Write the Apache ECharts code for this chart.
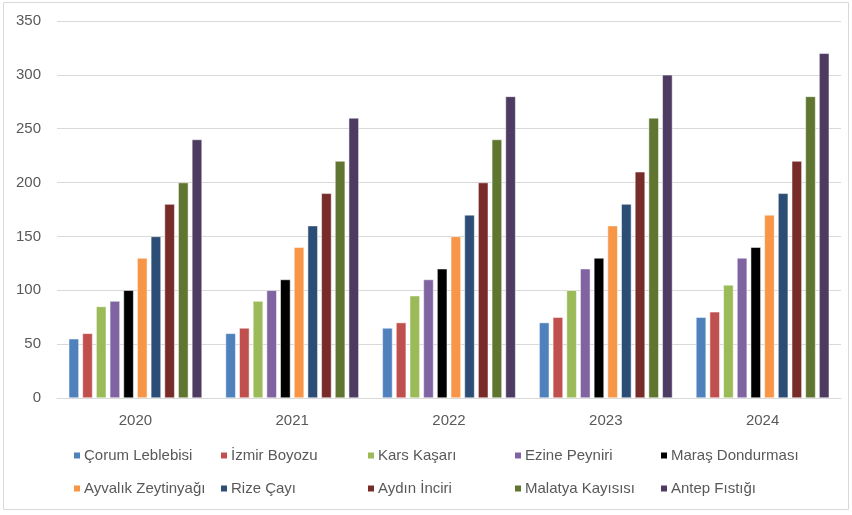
<!DOCTYPE html>
<html><head><meta charset="utf-8">
<script src="https://cdn.jsdelivr.net/npm/echarts@6/dist/echarts.min.js"></script>
<style>html,body{margin:0;padding:0;background:#fff}#c{width:852px;height:515px}</style>
</head><body><div id="c"></div>
<script>
const years = ['2020','2021','2022','2023','2024'];
const seriesNames = ['Çorum Leblebisi','İzmir Boyozu','Kars Kaşarı','Ezine Peyniri','Maraş Dondurması','Ayvalık Zeytinyağı','Rize Çayı','Aydın İnciri','Malatya Kayısısı','Antep Fıstığı'];
const corum = [55,60,65,70,75];
const izmir = [60,65,70,75,80];
const kars = [85,90,95,100,105];
const ezine = [90,100,110,120,130];
const maras = [100,110,120,130,140];
const ayvalik = [130,140,150,160,170];
const rize = [150,160,170,180,190];
const aydin = [180,190,200,210,220];
const malatya = [200,220,240,260,280];
const antep = [240,260,280,300,320];
const values = [corum,izmir,kars,ezine,maras,ayvalik,rize,aydin,malatya,antep];
const colors = ['#4f81bd','#c0504d','#9bbb59','#8064a2','#000000','#f79646','#2c4d75','#772c2a','#5f7530','#4d3b62'];
const yTicks = [0,50,100,150,200,250,300,350];

const font = 'Liberation Sans, Arial, sans-serif';
const legendX = [72,219,366,513,659];
const legendY = [448,481];
const legends = seriesNames.map((n,i)=>({
  data:[n], left: legendX[i%5], top: legendY[Math.floor(i/5)],
  itemWidth:8, itemHeight:8, itemGap:4, icon:'rect', padding:0,
  textStyle:{color:'#595959', fontSize:15, fontFamily:font, padding:[0,0,0,-2]}
}));

const chart = echarts.init(document.getElementById('c'), null, {renderer:'canvas'});
chart.setOption({
  animation:false,
  color: colors,
  graphic:[{type:'rect', shape:{x:3.5,y:2.5,width:845,height:507}, style:{fill:'none', stroke:'#d9d9d9', lineWidth:1}, silent:true}],
  grid:{left:57, right:11, top:21, bottom:117},
  legend: legends,
  xAxis:{type:'category', data:years,
    axisLine:{lineStyle:{color:'#d9d9d9'}}, axisTick:{show:false},
    axisLabel:{color:'#595959', fontSize:15, fontFamily:font, margin:15}},
  yAxis:{type:'value', min:yTicks[0], max:yTicks[yTicks.length-1], interval:50,
    axisLine:{show:false}, axisTick:{show:false},
    splitLine:{lineStyle:{color:'#d9d9d9'}},
    axisLabel:{color:'#595959', fontSize:15, fontFamily:font, margin:16}},
  series: seriesNames.map((n,i)=>({
    name:n, type:'bar', data:values[i], barGap:'35%', barCategoryGap:'15%',
    itemStyle:{color:colors[i], borderColor:'#ffffff', borderWidth:0.5}
  }))
});
</script></body></html>
